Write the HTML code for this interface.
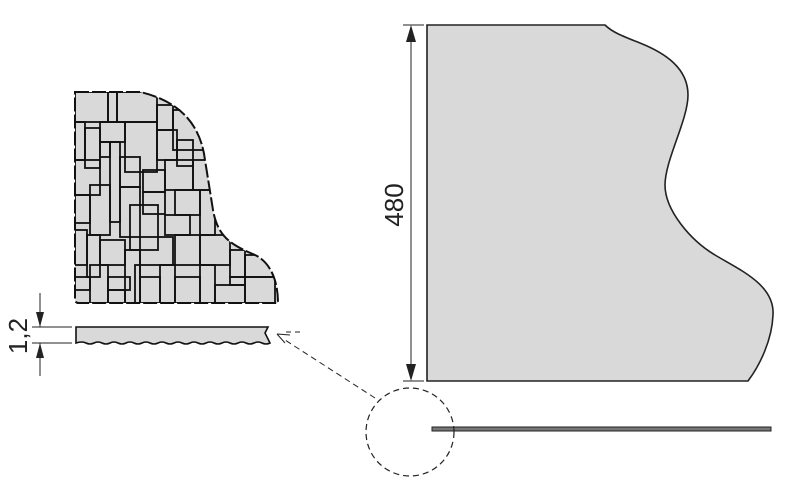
<!DOCTYPE html>
<html><head><style>html,body{margin:0;padding:0;background:#fff;}svg{display:block;}</style></head>
<body>
<svg width="790" height="494" viewBox="0 0 790 494" xmlns="http://www.w3.org/2000/svg" font-family="Liberation Sans, sans-serif">
<defs>
<clipPath id="cp"><path d="M75,92 L140,92 C175,100 200,120 205,160 L213,210 C218,238 232,245 255,255 C270,262 278,280 278,303 L79,303 Q75,303 75,299 Z"/></clipPath>
</defs>
<path d="M427,25 L605,25 C612,32 622,36 640,43 C665,53 688,68 688,95 C688,120 665,160 665,185 C665,210 690,240 715,255 C740,270 775,285 773,315 C772,340 760,365 748,381 L427,381 Z" fill="#d9d9d9" stroke="#222" stroke-width="1.6"/>
<line x1="411" y1="30" x2="411" y2="376" stroke="#222" stroke-width="1"/>
<path d="M411,25 L406,42 L416,42 Z M411,381 L406,364 L416,364 Z" fill="#222"/>
<line x1="403" y1="25" x2="424" y2="25" stroke="#222" stroke-width="1"/>
<line x1="403" y1="381" x2="424" y2="381" stroke="#222" stroke-width="1"/>
<text x="0" y="0" font-size="26" transform="translate(403,205) rotate(-90)" text-anchor="middle" fill="#222">480</text>
<rect x="432" y="427" width="339" height="4" fill="#777" stroke="#222" stroke-width="1"/>
<circle cx="410" cy="432" r="44" fill="none" stroke="#222" stroke-width="1.2" stroke-dasharray="6,4"/>
<line x1="375" y1="398" x2="285" y2="340" stroke="#222" stroke-width="1" stroke-dasharray="6,4"/>
<line x1="300" y1="332" x2="282" y2="332" stroke="#222" stroke-width="1" stroke-dasharray="5,4"/>
<path d="M277,334 L290,335 M277,334 L285,343" stroke="#222" stroke-width="1"/>
<path d="M75,92 L140,92 C175,100 200,120 205,160 L213,210 C218,238 232,245 255,255 C270,262 278,280 278,303 L79,303 Q75,303 75,299 Z" fill="#d9d9d9"/>
<g clip-path="url(#cp)" stroke="#111" stroke-width="1.8" fill="none">
<rect x="75" y="92" width="33" height="30"/>
<rect x="108" y="92" width="9" height="30"/>
<rect x="117" y="92" width="40" height="30"/>
<rect x="157" y="105" width="16" height="25"/>
<rect x="173" y="110" width="30" height="40"/>
<rect x="75" y="122" width="10" height="38"/>
<rect x="85" y="128" width="15" height="40"/>
<rect x="100" y="122" width="25" height="20"/>
<rect x="125" y="122" width="32" height="50"/>
<rect x="157" y="130" width="20" height="30"/>
<rect x="177" y="140" width="16" height="26"/>
<rect x="75" y="160" width="25" height="35"/>
<rect x="100" y="142" width="10" height="15"/>
<rect x="110" y="142" width="10" height="80"/>
<rect x="120" y="157" width="20" height="30"/>
<rect x="143" y="170" width="22" height="22"/>
<rect x="143" y="192" width="22" height="22"/>
<rect x="165" y="160" width="28" height="30"/>
<rect x="193" y="160" width="20" height="30"/>
<rect x="75" y="195" width="15" height="28"/>
<rect x="90" y="185" width="20" height="50"/>
<rect x="120" y="187" width="20" height="50"/>
<rect x="130" y="205" width="28" height="45"/>
<rect x="165" y="215" width="25" height="20"/>
<rect x="175" y="190" width="25" height="25"/>
<rect x="200" y="190" width="15" height="45"/>
<rect x="75" y="230" width="12" height="35"/>
<rect x="87" y="235" width="13" height="42"/>
<rect x="100" y="240" width="25" height="25"/>
<rect x="125" y="250" width="15" height="53"/>
<rect x="140" y="237" width="33" height="28"/>
<rect x="175" y="235" width="25" height="30"/>
<rect x="200" y="235" width="30" height="30"/>
<rect x="230" y="250" width="15" height="27"/>
<rect x="245" y="255" width="40" height="22"/>
<rect x="75" y="277" width="15" height="13"/>
<rect x="90" y="265" width="18" height="38"/>
<rect x="108" y="277" width="22" height="13"/>
<rect x="108" y="290" width="17" height="13"/>
<rect x="135" y="265" width="5" height="38"/>
<rect x="140" y="277" width="20" height="26"/>
<rect x="160" y="265" width="15" height="38"/>
<rect x="175" y="277" width="25" height="26"/>
<rect x="200" y="265" width="15" height="38"/>
<rect x="215" y="285" width="30" height="18"/>
<rect x="230" y="277" width="15" height="8"/>
<rect x="245" y="277" width="30" height="26"/>
</g>
<path d="M75,92 L140,92 C175,100 200,120 205,160 L213,210 C218,238 232,245 255,255 C270,262 278,280 278,303 L79,303 Q75,303 75,299 Z" fill="none" stroke="#111" stroke-width="2" stroke-dasharray="14,3"/>
<path d="M76,327 L268,327 L265,333 L270,343 Q266,345 262,343 Q258,341 254,343 Q250,345 246,343 Q242,341 238,343 Q234,345 230,343 Q226,341 222,343 Q218,345 214,343 Q210,341 206,343 Q202,345 198,343 Q194,341 190,343 Q186,345 182,343 Q178,341 174,343 Q170,345 166,343 Q162,341 158,343 Q154,345 150,343 Q146,341 142,343 Q138,345 134,343 Q130,341 126,343 Q122,345 118,343 Q114,341 110,343 Q106,345 102,343 Q98,341 94,343 Q90,345 86,343 Q82,341 76,343 Z" fill="#d9d9d9" stroke="#111" stroke-width="1.6"/>
<line x1="32" y1="327" x2="72" y2="327" stroke="#222" stroke-width="1"/>
<line x1="32" y1="343" x2="72" y2="343" stroke="#222" stroke-width="1"/>
<line x1="40" y1="293" x2="40" y2="327" stroke="#222" stroke-width="1"/>
<line x1="40" y1="343" x2="40" y2="376" stroke="#222" stroke-width="1"/>
<path d="M40,327 L36,312 L44,312 Z M40,343 L36,358 L44,358 Z" fill="#222"/>
<text x="0" y="0" font-size="26" transform="translate(27,336) rotate(-90)" text-anchor="middle" fill="#222">1,2</text>
</svg>
</body></html>
